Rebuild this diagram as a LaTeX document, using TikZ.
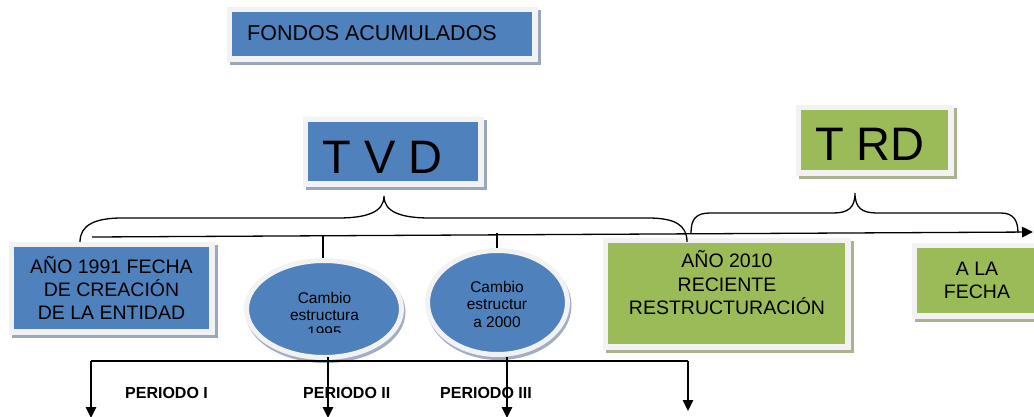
\documentclass[tikz,border=0pt]{standalone}
\usepackage{fontspec}
\setmainfont{Liberation Sans}
\usetikzlibrary{arrows.meta,shapes.geometric,calc}
\definecolor{boxblue}{HTML}{4F81BD}
\definecolor{boxgreen}{HTML}{9BBB59}
\definecolor{framec}{HTML}{F2F2F2}
\definecolor{shblue}{HTML}{9AA7BA}
\definecolor{shgreen}{HTML}{A9B390}
\definecolor{shell}{HTML}{A3AEC0}
\tikzset{
  framed/.style={rectangle, inner sep=0pt, line width=5.5pt, draw=framec,
    preaction={draw=#1, fill=#1, line width=5.5pt, transform canvas={xshift=3.5pt,yshift=-3.5pt}}},
  bluebox/.style={framed=shblue, fill=boxblue},
  greenbox/.style={framed=shgreen, fill=boxgreen},
  ell/.style={ellipse, inner sep=0pt, fill=boxblue, draw=framec, line width=5pt,
    preaction={draw=shell, fill=shell, line width=5pt, transform canvas={xshift=1.5pt,yshift=-3pt}}},
  midtxt/.style={inner sep=0pt, align=center, font=\fontsize{19.5}{23.5}\selectfont},
  bigtxt/.style={inner sep=0pt, font=\fontsize{47}{50}\selectfont},
  elltxt/.style={inner sep=0pt, align=center, font=\fontsize{15.5}{17}\selectfont},
  pertxt/.style={inner sep=0pt, anchor=base west, font=\bfseries\fontsize{16}{19}\selectfont},
  conn/.style={line width=1.3pt, draw=black},
  brace/.style={line width=1.3pt, draw=black},
  tip/.style={-{Triangle[length=11pt,width=10.5pt]}},
}
\begin{document}
\begin{tikzpicture}[x=1pt,y=-1pt]
\useasboundingbox (0,0) rectangle (1034,416);
\clip (0,0) rectangle (1034,416);

% boxes
\node[bluebox, minimum width=305.5pt, minimum height=49.5pt] (fondos) at (382,34) {};
\node[anchor=base west, inner sep=0pt, font=\fontsize{21.5}{25}\selectfont] (fondostxt) at (247,40) {FONDOS ACUMULADOS};

\node[bluebox, minimum width=175.5pt, minimum height=64.5pt] (tvd) at (393,151.5) {};
\node[bigtxt] (tvdtxt) at (382.5,157) {T V D};

\node[greenbox, minimum width=152.5pt, minimum height=65.5pt] (trd) at (874.5,140) {};
\node[bigtxt] (trdtxt) at (870,144.5) {T RD};

\node[bluebox, midtxt, minimum width=200.5pt, minimum height=87.5pt,
      font=\fontsize{19.5}{23}\selectfont] (y1991) at (111.5,288)
  {AÑO 1991 FECHA\\DE CREACIÓN\\DE LA ENTIDAD};

\node[greenbox, minimum width=242.5pt, minimum height=106.5pt] (y2010) at (726.5,293.5) {};
\node[midtxt] (y2010txt) at (727,283) {AÑO 2010\\RECIENTE\\RESTRUCTURACIÓN};

\node[greenbox, midtxt, minimum width=125.5pt, minimum height=70.5pt] (alafecha) at (977,280.5)
  {A LA\\FECHA};

% ellipses
\node[ell, minimum width=155pt, minimum height=97pt] (e1) at (324,309) {};
\node[ell, minimum width=140pt, minimum height=104pt] (e2) at (497.5,302.5) {};
\begin{scope}
  \clip (200,250) rectangle (450,332);
  \node[elltxt] (e1txt) at (324.5,314.5) {Cambio\\estructura\\1995};
\end{scope}
\node[elltxt, font=\fontsize{15.5}{17.5}\selectfont] (e2txt) at (497,304) {Cambio\\estructur\\a 2000};

% top timeline
\coordinate (tl0) at (92,237);
\coordinate (tl1) at (1033,232);
\draw[conn, tip] (tl0) -- (tl1);
\coordinate (t1) at (323,236.2);
\coordinate (t2) at (497,233);
\draw[conn] (t1) -- (t1 |- e1.north);
\draw[conn] (t2) -- (t2 |- e2.north);

% braces
\draw[brace] (80,242) .. controls (80,225) and (95,218) .. (122,218) -- (338,218)
  .. controls (367,218) and (384,212) .. (384,196)
  .. controls (384,212) and (401,218) .. (430,218) -- (648,218)
  .. controls (675,218) and (687,225) .. (687,242);
\draw[brace] (691,233) .. controls (691,219) and (696,213) .. (710,213) -- (833,213)
  .. controls (848,213) and (855,208) .. (855,193)
  .. controls (855,208) and (862,213) .. (877,213) -- (1001,213)
  .. controls (1013,213) and (1018,220) .. (1018,233);

% bottom timeline
\coordinate (b0) at (91,361);
\coordinate (b3) at (688,361);
\coordinate (v1) at (328,357);
\coordinate (v2) at (507,357);
\coordinate (a0) at (91,418);
\coordinate (a1) at (328,418);
\coordinate (a2) at (507,418);
\coordinate (a3) at (688,411);
\draw[conn] (b0) -- (b3);
\draw[conn, tip] (b0) -- (a0);
\draw[conn, tip] (v1) -- (a1);
\draw[conn, tip] (v2) -- (a2);
\draw[conn, tip] (b3) -- (a3);

\node[pertxt] (p1) at (125,398) {PERIODO I};
\node[pertxt] (p2) at (303,398) {PERIODO II};
\node[pertxt] (p3) at (440,398) {PERIODO III};
\end{tikzpicture}
\end{document}
